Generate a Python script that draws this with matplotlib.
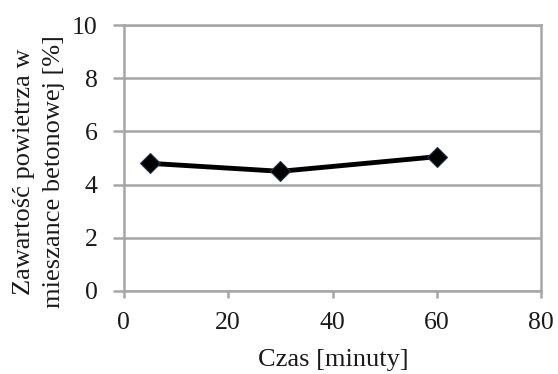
import matplotlib
matplotlib.use("Agg")
import matplotlib.pyplot as plt

# dane
czas = [5, 30, 60]
powietrze = [4.8, 4.5, 5.05]
x_ticks = [0, 20, 40, 60, 80]
y_ticks = [0, 2, 4, 6, 8, 10]

plt.rcParams['font.family'] = ['Liberation Serif', 'DejaVu Serif']

fig = plt.figure(figsize=(5.58, 3.74), dpi=100)
ax = fig.add_axes([0.222, 0.222, 0.748, 0.711])

grey = '#a6a6a6'
txt = '#1a1a1a'
ax.set_xlim(0, 80)
ax.set_ylim(0, 10)
ax.set_xticks(x_ticks)
ax.set_yticks(y_ticks)
ax.yaxis.grid(True, color=grey, linewidth=1.8)
ax.set_axisbelow(True)
for s in ax.spines.values():
    s.set_color(grey)
    s.set_linewidth(1.8)
ax.tick_params(axis='both', colors=grey, width=1.8, labelsize=18.5, labelcolor=txt)
ax.tick_params(axis='y', length=8, pad=11)
ax.tick_params(axis='x', length=5, pad=10)

ax.plot(czas, powietrze, color='black', linewidth=3.5, marker='D',
        markersize=10, markerfacecolor='black', markeredgecolor='#1f3550',
        markeredgewidth=0.8)

fig.text(333 / 558, 1 - 360 / 374, 'Czas [minuty]', fontsize=19, color=txt,
         ha='center', va='center')
fig.text(39 / 558, 1 - 172 / 374, 'Zawartość powietrza w\nmieszance betonowej [%]',
         fontsize=19, color=txt, ha='center', va='center', rotation=90,
         linespacing=1.45)

fig.savefig('out.png', dpi=100)
